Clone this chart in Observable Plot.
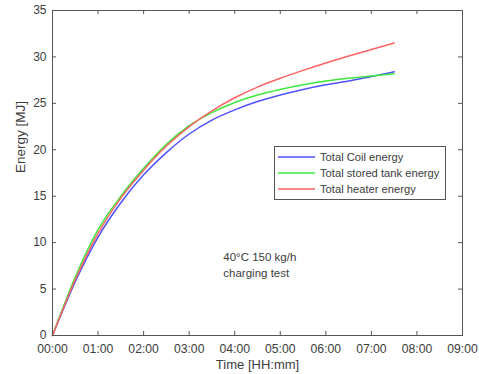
<!DOCTYPE html>
<html><head><meta charset="utf-8">
<script src="https://cdn.jsdelivr.net/npm/d3@7"></script>
<script src="https://cdn.jsdelivr.net/npm/@observablehq/plot@0.6"></script>
<style>body{margin:0;background:#fff} svg{display:block}</style>
</head><body><div id="chart"></div>
<script>
const hours        = [0, 0.5, 1, 1.5, 2, 2.5, 3, 3.5, 4, 4.5, 5, 5.5, 6, 6.5, 7, 7.5];
const coilEnergy   = [0, 5.8, 10.6, 14.3, 17.3, 19.7, 21.7, 23.2, 24.3, 25.2, 25.9, 26.5, 27.0, 27.4, 27.9, 28.4];
const tankEnergy   = [0, 6.3, 11.4, 15.0, 18.0, 20.6, 22.6, 24.0, 25.1, 25.9, 26.5, 27.0, 27.4, 27.7, 27.95, 28.2];
const heaterEnergy = [0, 6.0, 11.0, 14.8, 17.8, 20.4, 22.5, 24.2, 25.6, 26.75, 27.7, 28.55, 29.35, 30.1, 30.8, 31.5];
const seriesNames  = ["Total Coil energy", "Total stored tank energy", "Total heater energy"];
const seriesColors = ["#5050ff", "#3ee83e", "#ff6262"];
const xTicks       = [0, 1, 2, 3, 4, 5, 6, 7, 8, 9];
const xTickLabels  = ["00:00","01:00","02:00","03:00","04:00","05:00","06:00","07:00","08:00","09:00"];
const yTicks       = [0, 5, 10, 15, 20, 25, 30, 35];
const annotation   = {t: 3.75, v: 7.75, text: "40°C 150 kg/h\ncharging test"};

const seriesValues = [coilEnergy, tankEnergy, heaterEnergy];
const rows = [];
seriesValues.forEach((vals, s) => vals.forEach((v, i) => rows.push({t: hours[i], v, series: seriesNames[s]})));

const axisColor = "#555";
const font = "'Liberation Sans', Arial, Helvetica, sans-serif";

const plot = Plot.plot({
  width: 479, height: 374,
  marginLeft: 52, marginRight: 17, marginTop: 10, marginBottom: 39,
  x: {domain: [0, 9]},
  y: {domain: [0, 35]},
  color: {domain: seriesNames, range: seriesColors},
  style: {fontFamily: font, fontSize: "12px", color: "#3c3c3c", background: "white"},
  marks: [
    Plot.line(rows, {x: "t", y: "v", z: "series", stroke: "series", strokeWidth: 1.5, curve: "monotone-x"}),
    Plot.frame({stroke: axisColor}),
    Plot.tickX(xTicks, {x: d => d, insetTop: 321, stroke: axisColor}),
    Plot.tickX(xTicks, {x: d => d, insetBottom: 321, stroke: axisColor}),
    Plot.tickY(yTicks, {y: d => d, insetRight: 406, stroke: axisColor}),
    Plot.tickY(yTicks, {y: d => d, insetLeft: 406, stroke: axisColor}),
    Plot.axisX({ticks: xTicks, tickFormat: d => xTickLabels[xTicks.indexOf(d)], tickSize: 0, tickPadding: 9, label: null, fontSize: 12.2}),
    Plot.axisY({ticks: yTicks, tickSize: 0, tickPadding: 6, label: null, fontSize: 12}),
    Plot.text(["Time [HH:mm]"], {frameAnchor: "bottom", dy: 33, text: d => d, fontSize: 13}),
    Plot.text(["Energy [MJ]"], {frameAnchor: "left", dx: -32, rotate: -90, text: d => d, fontSize: 13.5}),
    Plot.text([annotation], {x: "t", y: "v", text: "text", textAnchor: "start", lineHeight: 1.4, fontSize: 11.5})
  ]
});
document.getElementById("chart").appendChild(plot);

// Legend box (inside the axes, like MATLAB)
const svg = d3.select(plot);
const lg = svg.append("g").attr("font-family", font).attr("font-size", 11.2)
  .attr("fill", "#3c3c3c").attr("text-anchor", "start");
lg.append("rect").attr("x", 274.5).attr("y", 146.5).attr("width", 171).attr("height", 53)
  .attr("fill", "white").attr("stroke", axisColor);
seriesNames.forEach((name, i) => {
  const y = 157 + i * 16;
  lg.append("line").attr("x1", 278).attr("x2", 315).attr("y1", y).attr("y2", y)
    .attr("stroke", seriesColors[i]).attr("stroke-width", 1.5);
  lg.append("text").attr("x", 320).attr("y", y).attr("dy", "0.35em").attr("text-anchor", "start").text(name);
});
</script>
</body></html>
